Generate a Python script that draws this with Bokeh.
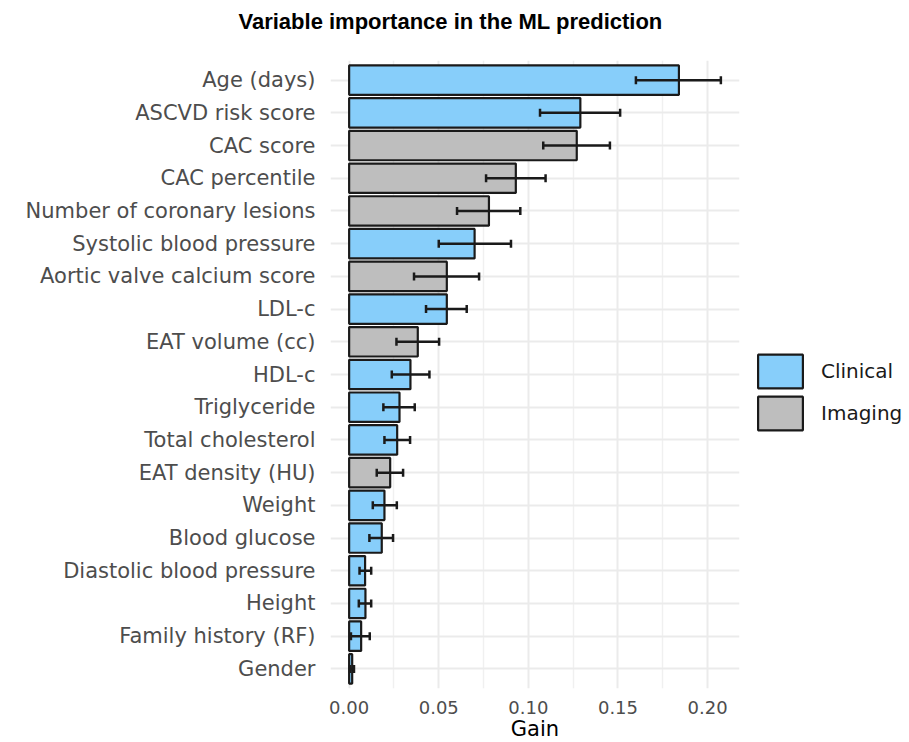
from bokeh.plotting import figure
from bokeh.models import (ColumnDataSource, FactorRange, Range1d, Whisker, TeeHead,
                          Legend, LegendItem, FixedTicker, NumeralTickFormatter)
from bokeh.embed import file_html
from bokeh.resources import INLINE

variables = ["Age (days)", "ASCVD risk score", "CAC score", "CAC percentile",
             "Number of coronary lesions", "Systolic blood pressure",
             "Aortic valve calcium score", "LDL-c", "EAT volume (cc)", "HDL-c",
             "Triglyceride", "Total cholesterol", "EAT density (HU)", "Weight",
             "Blood glucose", "Diastolic blood pressure", "Height",
             "Family history (RF)", "Gender"]
gain = [0.184, 0.129, 0.127, 0.093, 0.078, 0.070, 0.0545, 0.0545, 0.0383, 0.0342,
        0.0281, 0.0268, 0.0229, 0.0197, 0.0182, 0.0089, 0.0091, 0.0067, 0.0017]
gain_lower = [0.160, 0.1065, 0.1083, 0.0764, 0.0602, 0.050, 0.0362, 0.0429, 0.0264, 0.0238,
              0.0191, 0.0197, 0.0154, 0.0132, 0.0113, 0.0058, 0.0054, 0.0010, 0.0005]
gain_upper = [0.2074, 0.1512, 0.1455, 0.1096, 0.0955, 0.0903, 0.0725, 0.0656, 0.0502, 0.0448,
              0.0366, 0.0340, 0.0301, 0.0266, 0.0245, 0.0123, 0.0123, 0.0115, 0.0027]
group = ["Clinical", "Clinical", "Imaging", "Imaging", "Imaging", "Clinical", "Imaging",
         "Clinical", "Imaging", "Clinical", "Clinical", "Clinical", "Imaging", "Clinical",
         "Clinical", "Clinical", "Clinical", "Clinical", "Clinical"]
groups = ["Clinical", "Imaging"]
group_colors = {"Clinical": "#87CEFA", "Imaging": "#BEBEBE"}
x_ticks = [0.0, 0.05, 0.10, 0.15, 0.20]
x_minor = [0.025, 0.075, 0.125, 0.175]

FONT = "DejaVu Sans"

p = figure(y_range=FactorRange(factors=variables[::-1], range_padding=0.1,
                               range_padding_units="absolute"),
           x_range=Range1d(-0.0104, 0.2178),
           frame_width=409, frame_height=628,
           min_border_left=330, min_border_right=168, min_border_top=60, min_border_bottom=54,
           output_backend="svg", toolbar_location=None, outline_line_color=None,
           background_fill_color="white", border_fill_color="white")

# trailing empty line lifts the title towards the top edge, as in the reference
p.title.text = "Variable importance in the ML prediction\n"
p.title.text_font = "Liberation Sans"
p.title.text_font_size = "22px"
p.title.text_font_style = "bold"
p.title.text_color = "black"
p.title.align = "left"
p.title.vertical_align = "bottom"
p.title.offset = -92
p.title.standoff = 4

# grids
p.xgrid.ticker = FixedTicker(ticks=x_ticks, minor_ticks=x_minor)
p.xgrid.grid_line_color = "#EBEBEB"
p.xgrid.grid_line_width = 2
p.xgrid.minor_grid_line_color = "#F0F0F0"
p.xgrid.minor_grid_line_width = 1.5
p.ygrid.grid_line_color = "#EBEBEB"
p.ygrid.grid_line_width = 2

# axes
p.xaxis.ticker = FixedTicker(ticks=x_ticks, minor_ticks=x_minor)
p.xaxis.formatter = NumeralTickFormatter(format="0.00")
p.xaxis.axis_label = "Gain"
p.xaxis.axis_label_text_font = FONT
p.xaxis.axis_label_text_font_size = "21px"
p.xaxis.axis_label_text_font_style = "normal"
p.xaxis.axis_label_text_color = "black"
p.xaxis.axis_label_standoff = 0
p.xaxis.major_label_standoff = 8
for ax in (p.xaxis, p.yaxis):
    ax.axis_line_color = None
    ax.major_tick_line_color = None
    ax.minor_tick_line_color = None
    ax.major_tick_out = 0
    ax.major_label_text_color = "#4D4D4D"
    ax.major_label_text_font = FONT
p.xaxis.major_label_text_font_size = "18px"
p.yaxis.major_label_text_font_size = "21px"
p.yaxis.major_label_standoff = 15

renderers = {}
for g in groups:
    idx = [i for i, gg in enumerate(group) if gg == g]
    src = ColumnDataSource(dict(var=[variables[i] for i in idx],
                                gain=[gain[i] for i in idx]))
    renderers[g] = p.hbar(y="var", left=0, right="gain", height=0.9, source=src,
                          fill_color=group_colors[g], line_color="#1A1A1A", line_width=2.2)

err_src = ColumnDataSource(dict(var=variables, lo=gain_lower, hi=gain_upper))
whisker = Whisker(base="var", lower="lo", upper="hi", dimension="width", source=err_src,
                  level="overlay", line_color="#1A1A1A", line_width=2.5,
                  upper_head=TeeHead(size=8, line_color="#1A1A1A", line_width=2.5),
                  lower_head=TeeHead(size=8, line_color="#1A1A1A", line_width=2.5))
p.add_layout(whisker)

legend = Legend(items=[LegendItem(label=g, renderers=[renderers[g]]) for g in groups],
                location=(13, 254), glyph_width=56, glyph_height=42, spacing=0,
                padding=0, margin=0, border_line_color=None, background_fill_alpha=0,
                label_text_font=FONT, label_text_font_size="20px",
                label_text_color="#1A1A1A", label_standoff=13)
p.add_layout(legend, "right")

open("out.html", "w").write(file_html(p, INLINE))
